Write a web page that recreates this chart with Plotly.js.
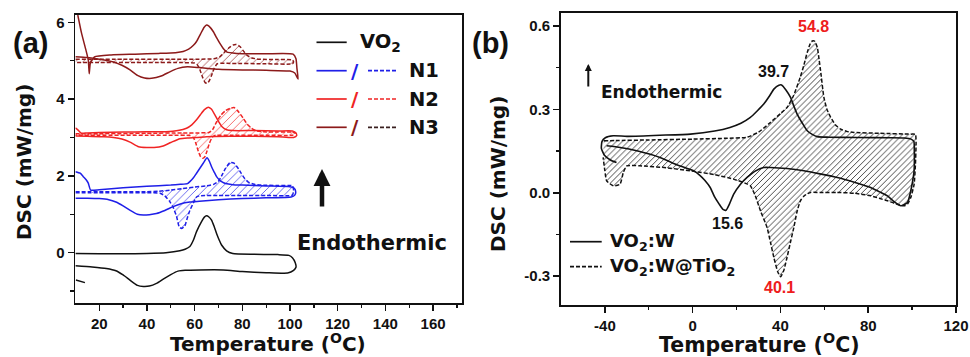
<!DOCTYPE html>
<html>
<head>
<meta charset="utf-8">
<script src="https://cdn.plot.ly/plotly-3.0.1.min.js"></script>
<style>html,body{margin:0;padding:0;background:#fff;}#chart{width:970px;height:357px;}</style>
</head>
<body>
<div id="chart"></div>
<script>
// ---------- Panel (a) data ----------
const vo2X = [10,20,30,40,48,53.8,56,58,59.5,60.8,62.9,64,65,66,67.1,68.2,69.2,70.3,71.3,73.4,76,85,95,99.5,101,102.2,102.5,101.5,99,90,80,72,62,56,53,50,47,44,41,38.5,36,33,30,27,23,17,10];
const vo2Y = [-0.02,-0.03,-0.03,-0.02,0.0,0.05,0.09,0.16,0.33,0.55,0.81,0.92,0.96,0.93,0.85,0.68,0.5,0.33,0.2,0.05,-0.02,-0.04,-0.05,-0.07,-0.13,-0.26,-0.38,-0.46,-0.53,-0.52,-0.49,-0.45,-0.45,-0.46,-0.48,-0.57,-0.68,-0.8,-0.87,-0.88,-0.85,-0.72,-0.58,-0.47,-0.41,-0.37,-0.34];
const vo2TailX = [10.2,14];
const vo2TailY = [-0.71,-0.78];

const n1X = [10,12,13.3,14.5,15.4,16.4,20,30,40,50,54,57,58,59.5,60.8,62.2,63.6,65.2,66.2,67.1,68.2,69.2,70.3,71.3,73,76,80,90,100,101.8,102.4,102,100.5,90,80,70,62,58,54,51,47.5,44,41,38.5,36,33,30,27,24,20,15,10];
const n1Y = [2.11,2.07,1.98,1.9,1.81,1.63,1.64,1.69,1.73,1.76,1.78,1.8,1.85,1.95,2.07,2.2,2.33,2.47,2.38,2.24,2.1,1.98,1.9,1.85,1.8,1.77,1.76,1.74,1.72,1.68,1.58,1.5,1.45,1.43,1.41,1.38,1.34,1.32,1.27,1.2,1.1,1.02,0.99,0.98,1.0,1.1,1.22,1.32,1.38,1.41,1.42,1.42];
const n1dX = [10,20,30,40,45,50,55,60,65,68,70,71.3,73,74.8,76.5,78,79.5,81,82.5,85,88,95,101,101.5,101,90,80,70,62,60.8,59.5,58,56.8,55.9,54.5,53.5,52.4,51,49.6,47.5,45.5,40,30,20,10];
const n1dY = [1.59,1.59,1.59,1.59,1.6,1.63,1.67,1.71,1.74,1.78,1.86,2.0,2.2,2.35,2.33,2.22,2.07,1.93,1.84,1.78,1.76,1.75,1.74,1.62,1.5,1.49,1.49,1.49,1.48,1.45,1.3,1.1,0.88,0.7,0.63,0.68,0.95,1.18,1.33,1.48,1.55,1.56,1.56,1.56,1.56];

const n2X = [10,11,12.5,15,20,30,40,48,53,56.6,58.8,60.8,62.5,64,65.7,67,68.5,70,71.5,73.4,76,85,95,101,102.5,102.8,101.5,95,85,75,65,60.8,57,53.8,50,46.8,43,39.9,36.5,32.9,29.5,26,22,15,10];
const n2Y = [3.25,3.2,3.11,3.12,3.13,3.14,3.15,3.15,3.18,3.24,3.33,3.46,3.6,3.72,3.79,3.74,3.59,3.42,3.28,3.2,3.18,3.18,3.17,3.17,3.12,3.05,3.0,3.02,3.03,3.03,3.02,3.0,2.99,2.97,2.87,2.78,2.74,2.74,2.76,2.88,2.96,3.0,3.02,3.03,3.04];
const n2dX = [10,20,40,55,62,66,67.5,69.2,71,73,75,76.5,78,80.4,82,83.9,86,88.8,95,101,102.5,101,90,75,69.3,68.3,67.3,66.2,65.2,64.3,63.4,62.5,61.5,60.5,59.5,58,50,40,20,10];
const n2dY = [3.1,3.1,3.11,3.12,3.12,3.13,3.2,3.41,3.58,3.7,3.76,3.78,3.7,3.5,3.35,3.24,3.17,3.15,3.14,3.14,3.1,3.06,3.06,3.06,3.06,3.05,3.0,2.85,2.65,2.5,2.46,2.5,2.65,2.85,3.0,3.05,3.06,3.06,3.06,3.06];

const n3X = [11,12.6,14.4,15.4,15.8,16.3,18,25,35,45,52,55.2,57.5,59.5,60.8,62.5,64,65,66,67.8,69.2,70.6,72,73.4,77.6,90,101.3,102.5,102.9,103.4,102,100,90,80,70,62,57,53,49.6,46,42,39,36,32.9,29.5,25.9,20,15,10];
const n3Y = [6.19,5.71,5.28,5.02,4.66,4.95,5.1,5.15,5.17,5.19,5.21,5.24,5.3,5.4,5.5,5.7,5.87,5.93,5.9,5.76,5.6,5.45,5.32,5.23,5.19,5.18,5.17,5.05,4.8,4.52,4.68,4.73,4.75,4.76,4.78,4.82,4.84,4.8,4.71,4.6,4.54,4.55,4.62,4.76,4.88,4.97,5.04,5.08,5.1];
const n3dX = [10,30,50,68,70.5,72.5,74.5,76.2,77.5,79,80.5,82,84,87,95,101,101.5,101,90,75,69.5,68.2,67,66,65.2,64.4,63.4,62.3,61.2,60,55,40,20,10];
const n3dY = [5.04,5.04,5.04,5.05,5.1,5.22,5.34,5.41,5.42,5.37,5.25,5.14,5.07,5.04,5.03,5.02,4.97,4.92,4.92,4.93,4.92,4.8,4.6,4.46,4.41,4.43,4.56,4.75,4.89,4.94,4.95,4.95,4.95,4.95];

const aTickVals = [20,40,60,80,100,120,140,160];
const aTickText = ['20','40','60','80','100','120','140','160'];
const aYTickVals = [0,2,4,6];
const aYTickText = ['0','2','4','6'];

// ---------- Panel (b) data ----------
const wSolidX = [-34.7,-37.5,-40.2,-41.6,-41.3,-39.8,-36.2,-30,-15,-1,10,17,22,26.3,29.5,32.4,35,37,39.3,40.5,42.5,44.6,46.2,47.6,50,52.2,54.5,56.8,62,75,90,96.4,99.5,100.8,101,100.9,100.2,99.4,97.9,94.9,91.5,88.8,85,81.1,74,65.9,58,50.7,43,35.4,32.4,28.5,24.8,21.7,18.7,16.8,15.2,13.8,12,10,8,5.5,3.4,0.4,-7,-14.9,-25,-33,-39.2];
const wSolidY = [0.109,0.118,0.135,0.16,0.185,0.198,0.205,0.203,0.207,0.211,0.222,0.235,0.25,0.271,0.295,0.319,0.348,0.373,0.387,0.388,0.37,0.343,0.31,0.283,0.25,0.223,0.21,0.202,0.2,0.199,0.198,0.197,0.193,0.185,0.15,0.079,0.04,0.007,-0.035,-0.047,-0.03,-0.011,0.004,0.019,0.037,0.055,0.068,0.079,0.087,0.091,0.091,0.078,0.055,0.03,-0.005,-0.04,-0.063,-0.06,-0.04,-0.015,0.019,0.045,0.062,0.079,0.1,0.127,0.15,0.163,0.169];
const wTiO2X = [-40.5,-35,-20,0,15,24.8,30,35,40,43,46,49,50.7,52.2,53.5,54.5,55.5,56.8,57.6,58.3,59.8,61.2,62.9,65,67.4,70.5,73.5,85,99.4,101.5,101.8,101.5,100.9,99.4,98,96.4,92,88.8,85,81.1,74,65.9,58,53.7,51,49.1,47.5,46.1,44.5,43,41.5,40.1,38.8,37,35.5,33.9,30.9,28.5,26.3,24.8,18.6,10,-1.1,-12,-24,-30,-31.6,-33.1,-36.2,-39.2,-40,-40.8];
const wTiO2Y = [0.187,0.188,0.19,0.193,0.196,0.2,0.218,0.25,0.285,0.307,0.35,0.415,0.46,0.505,0.535,0.546,0.546,0.523,0.48,0.439,0.343,0.3,0.271,0.245,0.229,0.22,0.217,0.214,0.211,0.21,0.18,0.1,0.03,-0.017,-0.04,-0.047,-0.038,-0.029,-0.02,-0.011,-0.002,0.001,0.001,0.001,-0.01,-0.029,-0.07,-0.125,-0.18,-0.233,-0.28,-0.302,-0.285,-0.233,-0.18,-0.125,-0.065,-0.01,0.025,0.032,0.049,0.065,0.079,0.09,0.097,0.097,0.073,0.031,0.025,0.043,0.079,0.127];

const bTickVals = [-40,0,40,80,120];
const bTickText = ['-40','0','40','80','120'];
const bYTickVals = [-0.3,0,0.3,0.6];
const bYTickText = ['-0.3','0.0','0.3','0.6'];

const peakLabels = ['39.7','54.8','15.6','40.1'];
const peakX = [37, 55.2, 16, 39.6];
const peakY = [0.436, 0.598, -0.112, -0.34];
const peakColors = ['#111','#ee1c1c','#111','#ee1c1c'];

// ---------- styles ----------
const BLACK = '#111111', BLUE = '#1f1fe8', RED = '#f02424', DRED = '#8c1a1a';
const W = 970, H = 357;
const PX = v => v / W, PY = v => 1 - v / H;
const lineA = (c, d) => ({color: c, width: 1.5, dash: d || 'solid', shape: 'spline', smoothing: 0.5});

function hatchA(c){ return {shape:'/', fgcolor:c, bgcolor:'rgba(0,0,0,0)', size:5.5, solidity:0.17, fgopacity:0.7}; }

const traces = [
  {x:n1dX, y:n1dY, xaxis:'x', yaxis:'y', mode:'lines', line:lineA(BLUE,'4px,2px'), fill:'toself', fillcolor:'rgba(0,0,0,0)', fillpattern:hatchA(BLUE), showlegend:false, hoverinfo:'skip'},
  {x:n2dX, y:n2dY, xaxis:'x', yaxis:'y', mode:'lines', line:lineA(RED,'4px,2px'), fill:'toself', fillcolor:'rgba(0,0,0,0)', fillpattern:hatchA(RED), showlegend:false, hoverinfo:'skip'},
  {x:n3dX, y:n3dY, xaxis:'x', yaxis:'y', mode:'lines', line:lineA(DRED,'4px,2px'), fill:'toself', fillcolor:'rgba(0,0,0,0)', fillpattern:hatchA(DRED), showlegend:false, hoverinfo:'skip'},
  {x:vo2X, y:vo2Y, xaxis:'x', yaxis:'y', mode:'lines', line:lineA(BLACK), showlegend:false},
  {x:vo2TailX, y:vo2TailY, xaxis:'x', yaxis:'y', mode:'lines', line:lineA(BLACK), showlegend:false},
  {x:n1X, y:n1Y, xaxis:'x', yaxis:'y', mode:'lines', line:lineA(BLUE), showlegend:false},
  {x:n2X, y:n2Y, xaxis:'x', yaxis:'y', mode:'lines', line:lineA(RED), showlegend:false},
  {x:n3X, y:n3Y, xaxis:'x', yaxis:'y', mode:'lines', line:lineA(DRED), showlegend:false},
  {x:wTiO2X, y:wTiO2Y, xaxis:'x2', yaxis:'y2', mode:'lines', line:{color:BLACK, width:1.5, dash:'4px,2px', shape:'spline', smoothing:0.5}, fill:'toself', fillcolor:'rgba(0,0,0,0)', fillpattern:{shape:'/', fgcolor:'#3a3a3a', bgcolor:'rgba(0,0,0,0)', size:4.2, solidity:0.22}, showlegend:false, hoverinfo:'skip'},
  {x:wSolidX, y:wSolidY, xaxis:'x2', yaxis:'y2', mode:'lines', line:{color:BLACK, width:1.6, shape:'spline', smoothing:0.5}, showlegend:false}
];

const tickFont = {family:'Liberation Sans, Arial, sans-serif', size:15, color:'#111', weight:'bold'};
function axisBase(){
  return {showline:true, linecolor:'#111', linewidth:1.8, mirror:true, showgrid:false, zeroline:false,
          ticks:'outside', ticklen:6, tickwidth:1.5, tickcolor:'#111', tickfont:tickFont, fixedrange:true};
}
const xa = Object.assign(axisBase(), {domain:[75.4/W, 461.7/W], range:[10,172], anchor:'y', tickmode:'array', tickvals:aTickVals, ticktext:aTickText,
  minor:{tickmode:'array', tickvals:[30,50,70,90,110,130,150,170], ticks:'outside', ticklen:3.5, tickwidth:1.3, tickcolor:'#111'}});
const ya = Object.assign(axisBase(), {domain:[1-303/H, 1-15/H], range:[-1.31,6.19], anchor:'x', tickmode:'array', tickvals:aYTickVals, ticktext:aYTickText,
  minor:{tickmode:'array', tickvals:[-1,1,3,5], ticks:'outside', ticklen:3.5, tickwidth:1.3, tickcolor:'#111'}});
const xb = Object.assign(axisBase(), {domain:[561/W, 956/W], range:[-60,120], anchor:'y2', tickmode:'array', tickvals:bTickVals, ticktext:bTickText,
  minor:{tickmode:'array', tickvals:[-20,20,60,100], ticks:'outside', ticklen:3.5, tickwidth:1.3, tickcolor:'#111'}});
const yb = Object.assign(axisBase(), {domain:[1-305/H, 1-12.7/H], range:[-0.404,0.648], anchor:'x2', tickmode:'array', tickvals:bYTickVals, ticktext:bYTickText,
  minor:{tickmode:'array', tickvals:[-0.15,0.15,0.45], ticks:'outside', ticklen:3.5, tickwidth:1.3, tickcolor:'#111'}});

const DJ = 'DejaVu Sans, sans-serif';
const LS = 'Liberation Sans, Arial, sans-serif';
function pAnn(text, x, y, size, opts){
  return Object.assign({text:text, xref:'paper', yref:'paper', x:PX(x), y:PY(y), showarrow:false,
    xanchor:'center', yanchor:'middle', font:{family:DJ, size:size, color:'#111'}}, opts || {});
}

const annotations = [
  pAnn('<b>(a)</b>', 30, 43, 28, {font:{family:LS, size:29, color:'#111'}}),
  pAnn('<b>(b)</b>', 490, 43, 28, {font:{family:LS, size:29, color:'#111'}}),
  pAnn('<b>DSC (mW/mg)</b>', 24.5, 162.5, 20, {textangle:-90}),
  pAnn('<b>DSC (mW/mg)</b>', 497.5, 173.5, 20, {textangle:-90}),
  pAnn('<b>Temperature (<sup>O</sup>C)</b>', 268, 343, 20),
  pAnn('<b>Temperature (<sup>O</sup>C)</b>', 759, 343, 20.5),
  pAnn('<b>Endothermic</b>', 372, 243, 21),
  pAnn('<b>Endothermic</b>', 661.7, 92, 17),
  pAnn('<b>VO<sub>2</sub></b>', 358, 42.3, 19.5, {xanchor:'left'}),
  pAnn('<b>/</b>', 355, 70.7, 20, {font:{family:DJ, size:20, color:BLUE}}),
  pAnn('<b>N1</b>', 407, 70.7, 19.5, {xanchor:'left'}),
  pAnn('<b>/</b>', 355, 99, 20, {font:{family:DJ, size:20, color:RED}}),
  pAnn('<b>N2</b>', 407, 99, 19.5, {xanchor:'left'}),
  pAnn('<b>/</b>', 355, 127.3, 20, {font:{family:DJ, size:20, color:DRED}}),
  pAnn('<b>N3</b>', 407, 127.3, 19.5, {xanchor:'left'}),
  pAnn('<b>VO<sub>2</sub>:W</b>', 608, 241.5, 18, {xanchor:'left'}),
  pAnn('<b>VO<sub>2</sub>:W@TiO<sub>2</sub></b>', 608, 266.5, 18, {xanchor:'left'}),
  {xref:'paper', yref:'paper', x:PX(322), y:PY(169), ax:0, ay:46, axref:'pixel', ayref:'pixel', text:' ', showarrow:true,
   arrowhead:2, arrowsize:0.75, arrowwidth:4.5, arrowcolor:'#111', standoff:0},
  {xref:'paper', yref:'paper', x:PX(588.3), y:PY(64), ax:0, ay:31, axref:'pixel', ayref:'pixel', text:' ', showarrow:true,
   arrowhead:2, arrowsize:0.7, arrowwidth:2, arrowcolor:'#111', standoff:0}
];
peakLabels.forEach((t, i) => {
  annotations.push({text:'<b>'+t+'</b>', xref:'x2', yref:'y2', x:peakX[i], y:peakY[i], showarrow:false,
    xanchor:'center', yanchor:'middle', font:{family:LS, size:16, color:peakColors[i]}});
});

function legLine(x0, x1, y, c, dash){
  return {type:'line', xref:'paper', yref:'paper', x0:PX(x0), x1:PX(x1), y0:PY(y), y1:PY(y),
          line:{color:c, width:1.7, dash:dash || 'solid'}};
}
const shapes = [
  legLine(316.5, 346.7, 42.3, BLACK),
  legLine(316.5, 346.7, 70.7, BLUE), legLine(368, 397, 70.7, BLUE, '4px,2px'),
  legLine(316.5, 346.7, 99, RED), legLine(368, 397, 99, RED, '4px,2px'),
  legLine(316.5, 346.7, 127.3, DRED), legLine(368, 397, 127.3, '#3a2020', '4px,2px'),
  legLine(570, 601.7, 241.7, BLACK), legLine(570, 601.7, 266.7, BLACK, '4px,2px')
];

const layout = {
  width:W, height:H, margin:{l:0, r:0, t:0, b:0}, paper_bgcolor:'#fff', plot_bgcolor:'rgba(0,0,0,0)',
  showlegend:false, xaxis:xa, yaxis:ya, xaxis2:xb, yaxis2:yb, annotations:annotations, shapes:shapes,
  font:{family:DJ, color:'#111'}
};
Plotly.newPlot('chart', traces, layout, {staticPlot:true, displayModeBar:false});
</script>
</body>
</html>
